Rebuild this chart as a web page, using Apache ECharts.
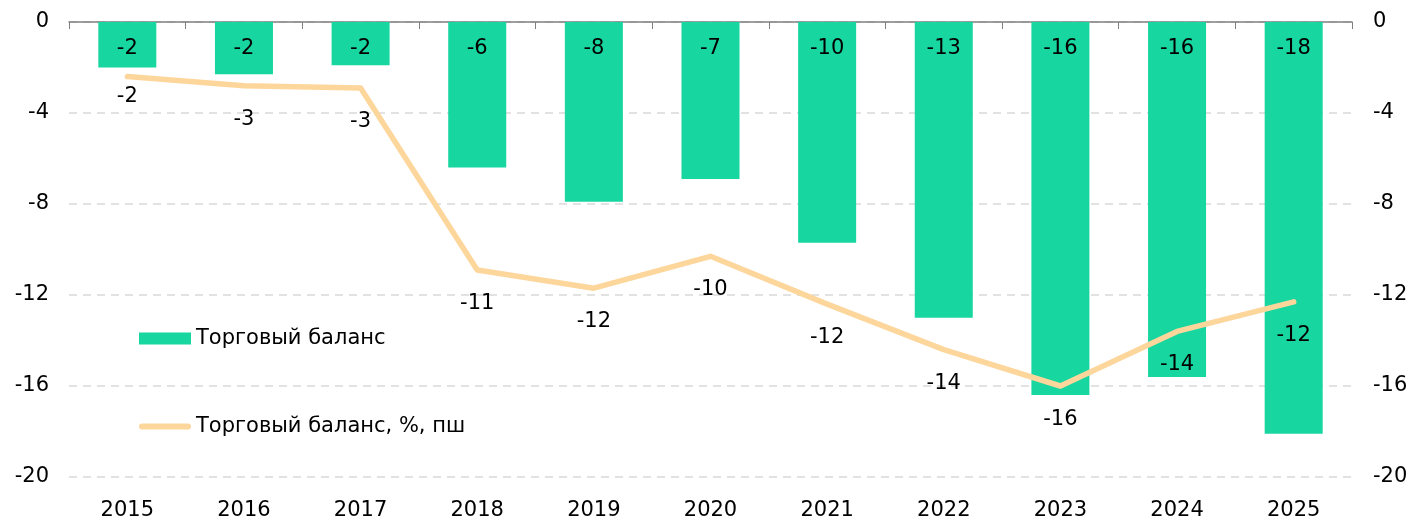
<!DOCTYPE html>
<html>
<head>
<meta charset="utf-8">
<script src="https://cdn.jsdelivr.net/npm/echarts@6/dist/echarts.min.js"></script>
<style>html,body{margin:0;padding:0;background:#fff}#c{width:1414px;height:516px}</style>
</head>
<body>
<div id="c"></div>
<script>
const categories = ['2015','2016','2017','2018','2019','2020','2021','2022','2023','2024','2025'];
const tradeBalance = [-2.0, -2.3, -1.9, -6.4, -7.9, -6.9, -9.7, -13.0, -16.4, -15.6, -18.1];
const tradeBalancePct = [-2.4, -2.8, -2.9, -10.9, -11.7, -10.3, -12.4, -14.4, -16.0, -13.6, -12.3];
const seriesNames = ['Торговый баланс', 'Торговый баланс, %, пш'];

const FONT = 'DejaVu Sans';
const FS = 21;
const LINE_COLOR = '#fdd69c';
const chart = echarts.init(document.getElementById('c'), null, {renderer: 'canvas'});
const valAxis = (pos) => ({
  type: 'value', position: pos, min: -20, max: 0, interval: 4,
  axisLine: {show: false}, axisTick: {show: false},
  axisLabel: {show: true, color: '#000', fontFamily: FONT, fontSize: FS, margin: pos === 'left' ? 20 : 21,
              padding: [4, 0, 0, 0], formatter: v => String(v)},
  splitLine: {show: pos === 'left', lineStyle: {color: '#d9d9d9', type: [8, 6], width: 1.5}}
});
const legendText = {fontFamily: FONT, fontSize: FS, color: '#000'};
chart.setOption({
  animation: false,
  grid: {left: 69, right: 62, top: 22, bottom: 39, containLabel: false, outerBoundsMode: 'none'},
  legend: [
    {orient: 'vertical', left: 139, top: 328, padding: 0, itemWidth: 52, itemHeight: 12, itemGap: 6,
     textStyle: legendText,
     data: [{name: seriesNames[0], icon: 'rect'}]},
    {orient: 'vertical', left: 139, top: 416, padding: 0, itemWidth: 52, itemHeight: 6, itemGap: 6,
     textStyle: legendText,
     data: [{name: seriesNames[1], icon: 'path://M3,0 H49 A3,3 0 0 1 49,6 H3 A3,3 0 0 1 3,0 Z',
             itemStyle: {color: LINE_COLOR, opacity: 1}}]}
  ],
  xAxis: [
    {type: 'category', data: categories, position: 'bottom',
     axisLine: {show: false}, axisTick: {show: false},
     axisLabel: {color: '#000', fontFamily: FONT, fontSize: FS, margin: 23}},
    {type: 'category', data: categories, position: 'top',
     axisLine: {show: true, lineStyle: {color: '#808080', width: 1.5}},
     axisTick: {show: true, inside: true, length: 7, lineStyle: {color: '#808080'}},
     axisLabel: {show: false}}
  ],
  yAxis: [valAxis('left'), valAxis('right')],
  series: [
    {name: seriesNames[0], type: 'bar', data: tradeBalance, barWidth: 58, xAxisIndex: 0, yAxisIndex: 0,
     itemStyle: {color: '#17d6a0'},
     label: {show: true, position: 'insideTop', distance: 16, color: '#000', fontFamily: FONT, fontSize: FS,
             formatter: p => String(Math.round(p.value))}},
    {name: seriesNames[1], type: 'line', xAxisIndex: 0, yAxisIndex: 1,
     data: tradeBalancePct.map((v, i) => i === 0 ? {value: v, label: {distance: 9}} : v),
     symbol: 'circle', symbolSize: 0.1, showSymbol: true,
     lineStyle: {color: LINE_COLOR, width: 5.5, cap: 'round', join: 'round'},
     itemStyle: {color: LINE_COLOR},
     label: {show: true, position: 'bottom', distance: 23, color: '#000', fontFamily: FONT, fontSize: FS,
             formatter: p => String(Math.round(p.value))},
     z: 3}
  ]
});
</script>
</body>
</html>
